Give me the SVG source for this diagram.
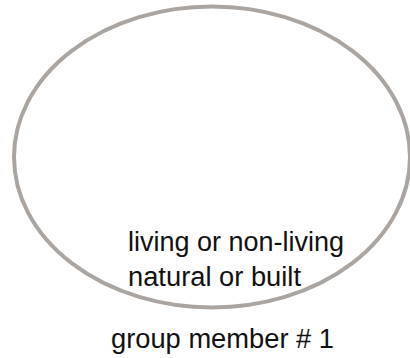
<svg xmlns="http://www.w3.org/2000/svg" width="410" height="358" viewBox="0 0 410 358">
<style>
.shape{fill:none;stroke:#aaa5a0;stroke-width:4}
.t{font-family:"Liberation Sans",Arial,sans-serif;font-size:27px;fill:#111}
</style>
<rect width="410" height="358" fill="#fff"/>
<g id="node-circle">
<ellipse class="shape" cx="212" cy="157" rx="198" ry="150.5"/>
<text class="t" x="128" y="251" textLength="216" lengthAdjust="spacingAndGlyphs">living or non-living</text>
<text class="t" x="128" y="286" textLength="173" lengthAdjust="spacingAndGlyphs">natural or built</text>
</g>
<g id="label">
<text class="t" x="111" y="348" textLength="223" lengthAdjust="spacingAndGlyphs">group member # 1</text>
</g>
<g id="connectors"></g>
</svg>
